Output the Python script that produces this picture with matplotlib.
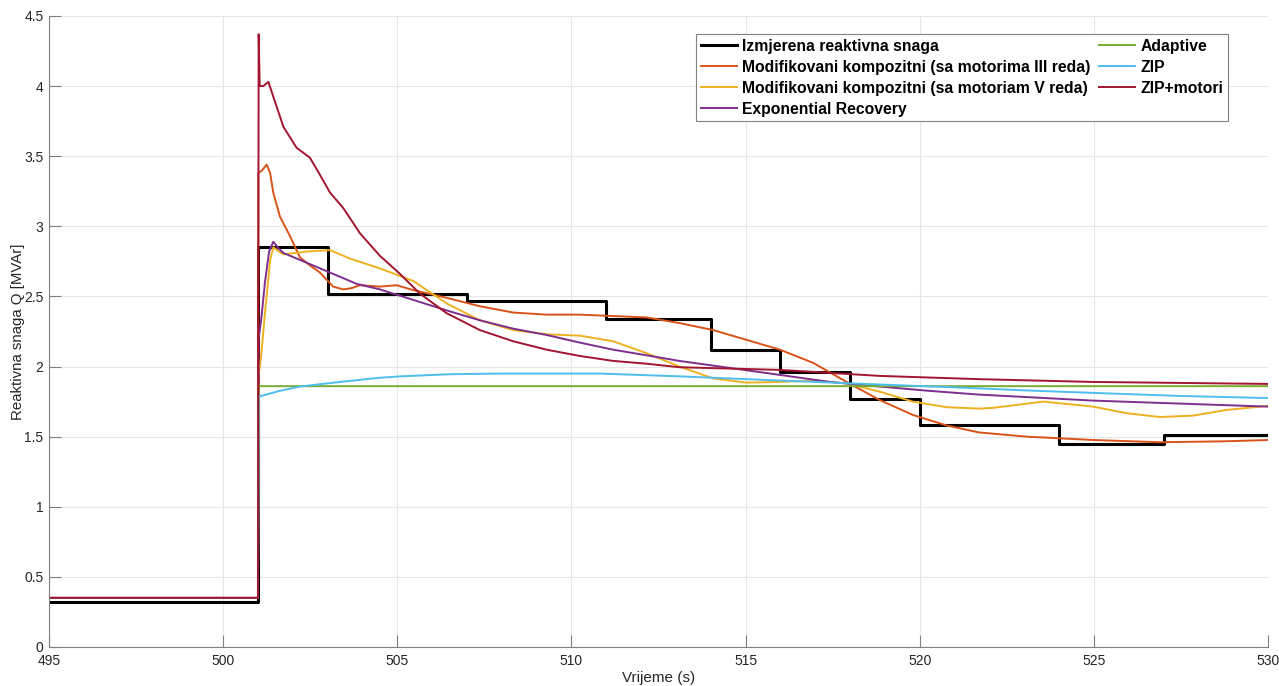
import matplotlib
matplotlib.use("Agg")
import matplotlib.pyplot as plt

plt.rcParams["font.family"] = ["Liberation Sans", "DejaVu Sans"]

# Measured reactive power (step signal)
meas_t = [495, 501, 503, 507, 511, 514, 516, 518, 520, 524, 527, 530]
meas_q = [0.32, 2.85, 2.52, 2.47, 2.34, 2.12, 1.96, 1.77, 1.58, 1.45, 1.51, 1.51]

# Modified composite model (3rd order motors)
mk3_t = [495, 501.0, 501.01, 501.12, 501.25, 501.35, 501.44, 501.63, 501.92, 502.2,
         502.5, 502.78, 503.16, 503.45, 503.7, 503.93, 504.2, 504.5, 504.98, 505.46,
         506.42, 507.37, 508.33, 509.29, 510.25, 511.2, 512.16, 513.1, 514.07,
         515.03, 515.99, 516.95, 517.9, 518.86, 519.8, 520.77, 521.7, 523.07,
         524.98, 526.9, 528.8, 530]
mk3_q = [0.35, 0.35, 3.38, 3.40, 3.44, 3.38, 3.24, 3.07, 2.93, 2.78,
         2.72, 2.67, 2.57, 2.55, 2.56, 2.58, 2.575, 2.57, 2.58, 2.545,
         2.49, 2.43, 2.385, 2.37, 2.37, 2.36, 2.35, 2.31, 2.26,
         2.19, 2.12, 2.025, 1.89, 1.76, 1.655, 1.58, 1.53, 1.50,
         1.476, 1.46, 1.467, 1.476]

# Modified composite model (5th order motors)
mk5_t = [495, 501.0, 501.02, 501.1, 501.2, 501.35, 501.44, 501.55, 501.73, 502.4,
         503.07, 503.64, 504.5, 505.46, 506.42, 507.37, 508.33, 509.29, 510.25,
         511.2, 512.16, 513.1, 514.07, 515.03, 515.99, 516.95, 517.9, 518.86,
         519.8, 520.77, 521.7, 522.1, 523.55, 524.98, 525.94, 526.9, 527.85,
         528.8, 530]
mk5_q = [0.35, 0.35, 1.93, 2.1, 2.38, 2.76, 2.85, 2.83, 2.80, 2.82,
         2.83, 2.77, 2.70, 2.61, 2.45, 2.33, 2.26, 2.23, 2.22,
         2.18, 2.095, 2.0, 1.915, 1.885, 1.89, 1.90, 1.88, 1.82,
         1.75, 1.71, 1.70, 1.705, 1.75, 1.714, 1.667, 1.64, 1.65,
         1.69, 1.72]

# Exponential recovery model
exp_t = [495, 501.0, 501.02, 501.1, 501.2, 501.32, 501.44, 501.6, 501.73, 502.4,
         503.07, 503.83, 504.5, 505.46, 506.42, 507.37, 508.33, 509.29, 510.25,
         511.2, 512.16, 513.1, 514.55, 515.99, 517.42, 518.86, 520.3, 521.7,
         524.98, 530]
exp_q = [0.35, 0.35, 2.2, 2.35, 2.6, 2.82, 2.89, 2.84, 2.81, 2.74,
         2.67, 2.59, 2.55, 2.475, 2.40, 2.33, 2.27, 2.225, 2.17,
         2.12, 2.08, 2.04, 1.99, 1.94, 1.89, 1.857, 1.826, 1.80,
         1.757, 1.714]

# Adaptive model
ad_t = [495, 501.0, 501.02, 530]
ad_q = [0.35, 0.35, 1.86, 1.86]

# ZIP model
zip_t = [495, 501.0, 501.02, 501.6, 502.2, 503.35, 504.5, 505.1, 506.5, 508.0,
         510.8, 513.1, 515.5, 518.0, 521.16, 523.0, 525.2, 527.5, 530]
zip_q = [0.35, 0.35, 1.785, 1.825, 1.857, 1.89, 1.92, 1.93, 1.945, 1.95,
         1.95, 1.93, 1.905, 1.88, 1.85, 1.83, 1.81, 1.79, 1.775]

# ZIP + motors model
zm_t = [495, 501.0, 501.02, 501.05, 501.15, 501.3, 501.44, 501.73, 502.11, 502.49,
        502.75, 503.07, 503.45, 503.93, 504.5, 505.08, 505.65, 506.42, 507.37,
        508.33, 509.29, 510.25, 511.2, 512.16, 513.1, 515.99, 518.86, 521.7,
        524.98, 530]
zm_q = [0.35, 0.35, 4.37, 4.0, 4.0, 4.03, 3.925, 3.71, 3.56, 3.49,
        3.38, 3.24, 3.13, 2.95, 2.79, 2.66, 2.52, 2.38, 2.26,
        2.18, 2.12, 2.075, 2.04, 2.02, 1.995, 1.976, 1.933, 1.91,
        1.89, 1.876]

fig = plt.figure(figsize=(12.79, 6.86), dpi=100)
ax = fig.add_axes([0.0383, 0.0569, 0.9531, 0.9198])

ax.plot(meas_t, meas_q, drawstyle="steps-post", color="black", lw=2.2,
        label="Izmjerena reaktivna snaga")
ax.plot(mk3_t, mk3_q, color="#D95319", lw=1.4,
        label="Modifikovani kompozitni (sa motorima III reda)")
ax.plot(mk5_t, mk5_q, color="#EDB120", lw=1.4,
        label="Modifikovani kompozitni (sa motoriam V reda)")
ax.plot(exp_t, exp_q, color="#7E2F8E", lw=1.4, label="Exponential Recovery")
ax.plot(ad_t, ad_q, color="#77AC30", lw=1.4, label="Adaptive")
ax.plot(zip_t, zip_q, color="#4DBEEE", lw=1.4, label="ZIP")
ax.plot(zm_t, zm_q, color="#A2142F", lw=1.4, label="ZIP+motori")

ax.set_xlim(495, 530)
ax.set_ylim(0, 4.5)
ax.set_xticks(range(495, 531, 5))
ax.set_yticks([i * 0.5 for i in range(10)])
ax.set_yticklabels(["0", "0.5", "1", "1.5", "2", "2.5", "3", "3.5", "4", "4.5"])
ax.grid(True, color="#e6e6e6", lw=0.8)
ax.set_axisbelow(True)
ax.spines["top"].set_visible(False)
ax.spines["right"].set_visible(False)
for s in ("left", "bottom"):
    ax.spines[s].set_color("#808080")
    ax.spines[s].set_linewidth(0.8)
ax.tick_params(direction="in", length=8.6, width=0.8, color="#808080",
               labelcolor="#262626", labelsize=10)
ax.tick_params(axis="y", pad=4)
ax.tick_params(axis="x", pad=5)
ax.set_xlabel("Vrijeme (s)", fontsize=11, color="#262626", labelpad=2)
ax.set_ylabel("Reaktivna snaga Q [MVAr]", fontsize=10.8, color="#262626",
              labelpad=-1)

leg = ax.legend(ncol=2, loc="upper right", bbox_to_anchor=(0.967, 0.9715),
                borderaxespad=0, prop={"weight": "bold", "size": 11.3},
                fancybox=False, framealpha=1, edgecolor="#808080",
                handlelength=2.3, handletextpad=0.3, columnspacing=0.6,
                labelspacing=0.38, borderpad=0.3)
leg.get_frame().set_linewidth(0.8)

fig.savefig("out.png", dpi=100)
